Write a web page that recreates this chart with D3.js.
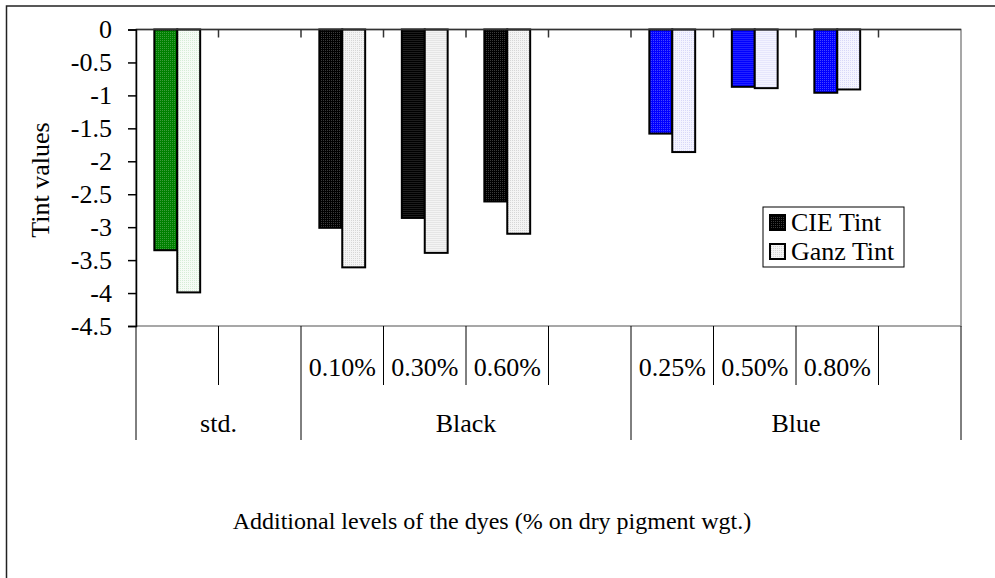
<!DOCTYPE html>
<html>
<head>
<meta charset="utf-8">
<script src="https://cdn.jsdelivr.net/npm/d3@7"></script>
<style>
  body { margin: 0; background: #fff; }
  svg { display: block; }
  svg text { font-family: "Liberation Serif", "Times New Roman", serif; }
</style>
</head>
<body>
<svg id="viz" width="995" height="578"></svg>
<script>
// slots along the category axis (blank ones are the empty gaps in the picture)
var subLabels = ["", "", "0.10%", "0.30%", "0.60%", "", "0.25%", "0.50%", "0.80%", ""]
var slotGroup = [0, 0, 1, 1, 1, 1, 2, 2, 2, 2]
var groups = ["std.", "Black", "Blue"]
var cieTint  = [-3.35, null, -3.01, -2.86, -2.61, null, -1.58, -0.87, -0.96, null]
var ganzTint = [-3.99, null, -3.61, -3.39, -3.10, null, -1.86, -0.89, -0.91, null]
var seriesNames = ["CIE Tint", "Ganz Tint"]
var yTicks = [0, -0.5, -1, -1.5, -2, -2.5, -3, -3.5, -4, -4.5]

// fill per group: [cie base, cie dot, ganz base, ganz dot]
var groupFills = [
    ["#008000", "#3c9c3c", "#f6fbf6", "#d6ecd6"],
    ["#000000", "#3a3a3a", "#f4f4f4", "#d6d6d6"],
    ["#0000ff", "#4444ff", "#f4f4ff", "#d8d8f8"]
]

let plot = {left: 136, right: 961, top: 29.5, bottom: 326}
let subTickEnd = 385
let groupTickEnd = 440
let fontSize = 26

let viz = d3.select("#viz")

// dotted fills like the office chart
let defs = viz.append("defs")
function addPattern(id, base, dot) {
    let p = defs.append("pattern")
        .attr("id", id)
        .attr("width", 2).attr("height", 2)
        .attr("patternUnits", "userSpaceOnUse")
    p.append("rect").attr("width", 2).attr("height", 2).attr("fill", base)
    p.append("rect").attr("width", 1).attr("height", 1).attr("fill", dot)
}
groupFills.forEach((f, i) => {
    addPattern("cie" + i, f[0], f[1])
    addPattern("ganz" + i, f[2], f[3])
})

// outer chart frame (only top and left edges show)
viz.append("path")
    .attr("d", "M6.5,578 L6.5,6 L995,6")
    .attr("fill", "none")
    .attr("stroke", "#222")
    .attr("stroke-width", 1.5)

let x = d3.scaleBand()
    .domain(d3.range(subLabels.length))
    .range([plot.left, plot.right])

let xSeries = d3.scaleBand()
    .domain([0, 1])
    .range([0, x.bandwidth()])
    .paddingOuter(0.8)

let y = d3.scaleLinear()
    .domain([-4.5, 0])
    .range([plot.bottom, plot.top])

// plot area border
viz.append("rect")
    .attr("x", plot.left)
    .attr("y", plot.top)
    .attr("width", plot.right - plot.left)
    .attr("height", plot.bottom - plot.top)
    .attr("fill", "none")
    .attr("stroke", "#8a8a8a")
    .attr("stroke-width", 1.5)

// bars
let rows = subLabels.map((s, i) => ({i, vals: [cieTint[i], ganzTint[i]]}))
let slot = viz.append("g").attr("id", "bars")
    .selectAll("g")
    .data(rows.filter(r => r.vals[0] != null))
    .enter().append("g")
    .attr("transform", r => `translate(${x(r.i)},0)`)

slot.selectAll("rect")
    .data(r => r.vals.map((v, k) => ({v, k, g: slotGroup[r.i]})))
    .enter().append("rect")
    .attr("x", d => xSeries(d.k))
    .attr("width", xSeries.bandwidth())
    .attr("y", y(0))
    .attr("height", d => y(d.v) - y(0))
    .attr("fill", d => `url(#${d.k == 0 ? "cie" : "ganz"}${d.g})`)
    .attr("stroke", "#000")
    .attr("stroke-width", 2)

// category axis line at zero, ticks pointing into the plot
viz.append("line")
    .attr("x1", plot.left).attr("x2", plot.right)
    .attr("y1", y(0)).attr("y2", y(0))
    .attr("stroke", "#333").attr("stroke-width", 1.5)

viz.append("g")
    .selectAll("line")
    .data(d3.range(1, subLabels.length))
    .enter().append("line")
    .attr("x1", i => x(i)).attr("x2", i => x(i))
    .attr("y1", y(0)).attr("y2", y(0) + 8)
    .attr("stroke", "#333").attr("stroke-width", 1.5)

// value axis
let yAxis = viz.append("g")
    .attr("transform", `translate(${plot.left},0)`)
    .call(d3.axisLeft(y).tickValues(yTicks).tickFormat(d => String(d)).tickSize(8).tickPadding(16))
yAxis.attr("font-family", null).attr("font-size", null)
yAxis.select(".domain").attr("stroke", "#000").attr("stroke-width", 1.5)
yAxis.selectAll(".tick line").attr("stroke", "#000").attr("stroke-width", 1.5)
yAxis.selectAll("text")
    .style("font-family", "'Liberation Serif', 'Times New Roman', serif")
    .style("font-size", fontSize + "px")
    .attr("fill", "#000")

// multi-level category labels below the plot
let lower = viz.append("g").attr("id", "categories")
let boundaries = d3.range(0, subLabels.length + 1)
lower.selectAll("line")
    .data(boundaries)
    .enter().append("line")
    .attr("x1", i => i < subLabels.length ? x(i) : plot.right)
    .attr("x2", i => i < subLabels.length ? x(i) : plot.right)
    .attr("y1", plot.bottom)
    .attr("y2", i => (i == 0 || i == subLabels.length || slotGroup[i] != slotGroup[i - 1]) ? groupTickEnd : subTickEnd)
    .attr("stroke", "#000")
    .attr("stroke-width", 1)

lower.selectAll("text.sub")
    .data(subLabels.map((s, i) => ({s, i})).filter(d => d.s))
    .enter().append("text")
    .attr("class", "sub")
    .attr("x", d => x(d.i) + x.bandwidth() / 2)
    .attr("y", 376)
    .attr("text-anchor", "middle")
    .attr("font-size", fontSize)
    .text(d => d.s)

lower.selectAll("text.grp")
    .data(groups.map((g, gi) => {
        let idx = slotGroup.map((s, i) => s == gi ? i : -1).filter(i => i >= 0)
        return {g, a: x(idx[0]), b: x(idx[idx.length - 1]) + x.bandwidth()}
    }))
    .enter().append("text")
    .attr("class", "grp")
    .attr("x", d => (d.a + d.b) / 2)
    .attr("y", 432)
    .attr("text-anchor", "middle")
    .attr("font-size", fontSize)
    .text(d => d.g)

// axis titles
viz.append("text")
    .attr("transform", "translate(49,180) rotate(-90)")
    .attr("text-anchor", "middle")
    .attr("font-size", fontSize)
    .text("Tint values")

viz.append("text")
    .attr("x", 492)
    .attr("y", 529)
    .attr("text-anchor", "middle")
    .attr("font-size", 24)
    .text("Additional levels of the dyes (% on dry pigment wgt.)")

// legend
let legend = viz.append("g").attr("transform", "translate(763,207)")
legend.append("rect")
    .attr("width", 141).attr("height", 60)
    .attr("fill", "#fff")
    .attr("stroke", "#000").attr("stroke-width", 1)
let item = legend.selectAll("g")
    .data(seriesNames)
    .enter().append("g")
    .attr("transform", (d, i) => `translate(0,${24 + i * 29})`)
item.append("rect")
    .attr("x", 7).attr("y", -16)
    .attr("width", 15).attr("height", 15)
    .attr("fill", (d, i) => `url(#${i == 0 ? "cie" : "ganz"}1)`)
    .attr("stroke", "#000").attr("stroke-width", 2)
item.append("text")
    .attr("x", 28)
    .attr("y", 0)
    .attr("font-size", fontSize)
    .text(d => d)
</script>
</body>
</html>
